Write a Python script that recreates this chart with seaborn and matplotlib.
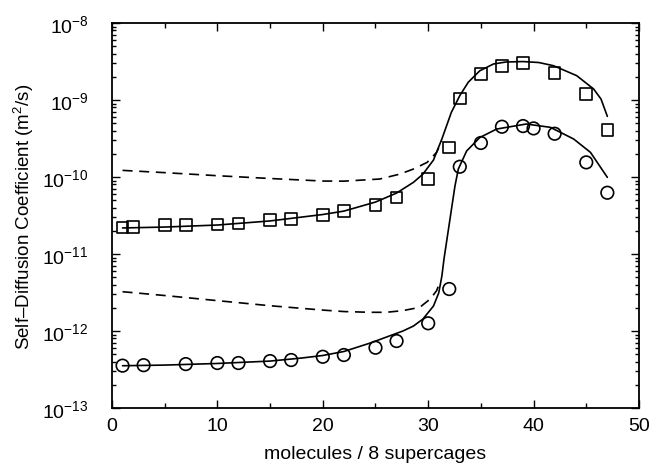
import numpy as np
import pandas as pd
import matplotlib
matplotlib.use("Agg")
import matplotlib.pyplot as plt
import seaborn as sns
from matplotlib.ticker import MultipleLocator, LogLocator, NullFormatter

# measured points (squares = upper series, circles = lower series)
sq_x = [1, 2, 5, 7, 10, 12, 15, 17, 20, 22, 25, 27, 30, 32, 33, 35, 37, 39, 42, 45, 47]
sq_y = [2.2e-11, 2.26e-11, 2.38e-11, 2.4e-11, 2.43e-11, 2.5e-11, 2.77e-11, 2.85e-11,
        3.2e-11, 3.6e-11, 4.3e-11, 5.4e-11, 9.4e-11, 2.43e-10, 1.05e-9, 2.16e-9,
        2.79e-9, 3.03e-9, 2.24e-9, 1.19e-9, 4.07e-10]

ci_x = [1, 3, 7, 10, 12, 15, 17, 20, 22, 25, 27, 30, 32, 33, 35, 37, 39, 40, 42, 45, 47]
ci_y = [3.55e-13, 3.6e-13, 3.72e-13, 3.84e-13, 3.84e-13, 4.07e-13, 4.2e-13, 4.63e-13,
        4.88e-13, 6.07e-13, 7.41e-13, 1.26e-12, 3.51e-12, 1.36e-10, 2.77e-10, 4.5e-10,
        4.59e-10, 4.28e-10, 3.65e-10, 1.55e-10, 6.25e-11]

# model curves (solid)
up_x = [1, 5, 10, 15, 20, 22, 25, 27, 28.6, 29.5, 30.5, 31.3, 32.2, 33.0, 33.8,
        34.9, 36.2, 37.4, 39.0, 40.5, 41.9, 44.1, 45.7, 46.4, 47.0]
up_y = [2.18e-11, 2.24e-11, 2.38e-11, 2.69e-11, 3.26e-11, 3.61e-11, 4.73e-11, 6.19e-11,
        8.53e-11, 1.09e-10, 1.66e-10, 3.12e-10, 6.93e-10, 1.14e-9, 1.70e-9,
        2.40e-9, 2.94e-9, 3.12e-9, 3.16e-9, 3.07e-9, 2.79e-9, 2.07e-9, 1.39e-9, 1.03e-9, 6.14e-10]

lo_x = [1, 5, 10, 15, 18, 20, 22, 24.5, 27.6, 28.6, 29.5, 30.5, 31.0, 31.3, 31.5,
        32.07, 32.54, 32.86, 33.65, 34.9, 36.5, 39.3, 41.6, 43.8, 45.4, 47.0]
lo_y = [3.54e-13, 3.61e-13, 3.79e-13, 4.07e-13, 4.46e-13, 4.81e-13, 5.42e-13, 6.98e-13,
        1.0e-12, 1.16e-12, 1.43e-12, 2.11e-12, 3.12e-12, 5.18e-12, 8.61e-12,
        2.85e-11, 7.64e-11, 1.27e-10, 2.18e-10, 3.26e-10, 4.20e-10, 4.88e-10, 4.42e-10,
        3.12e-10, 2.09e-10, 9.9e-11]

# dashed curves
dup_x = [1, 5, 10, 15, 20, 22, 25.4, 27.3, 28.6, 29.9, 30.8, 31.3]
dup_y = [1.22e-10, 1.14e-10, 1.04e-10, 9.57e-11, 8.87e-11, 8.84e-11, 9.42e-11, 1.09e-10,
         1.27e-10, 1.55e-10, 2.09e-10, 2.96e-10]

dlo_x = [1, 5, 10, 15, 20, 22, 24.5, 26, 27.6, 29.2, 30.2, 30.8, 31.1]
dlo_y = [3.24e-12, 2.89e-12, 2.48e-12, 2.13e-12, 1.87e-12, 1.79e-12, 1.75e-12, 1.75e-12,
         1.84e-12, 2.03e-12, 2.61e-12, 3.34e-12, 4.29e-12]

sns.set_style("ticks")
plt.rcParams['font.family'] = ['Liberation Sans', 'DejaVu Sans']
plt.rcParams['mathtext.fontset'] = 'custom'
plt.rcParams['mathtext.rm'] = 'Liberation Sans'
plt.rcParams['mathtext.it'] = 'Liberation Sans'
for k in ['text.color', 'axes.labelcolor', 'xtick.color', 'ytick.color', 'axes.edgecolor']:
    plt.rcParams[k] = 'black'

fig = plt.figure(figsize=(6.52, 4.64), dpi=100)
ax = fig.add_axes([0.1718, 0.1185, 0.8082, 0.8297])

lw = 1.2
sns.lineplot(x=up_x, y=up_y, color='black', lw=lw, estimator=None, sort=False, ax=ax)
sns.lineplot(x=lo_x, y=lo_y, color='black', lw=lw, estimator=None, sort=False, ax=ax)
sns.lineplot(x=dup_x, y=dup_y, color='black', lw=lw, linestyle=(0, (6, 4)),
             estimator=None, sort=False, ax=ax)
sns.lineplot(x=dlo_x, y=dlo_y, color='black', lw=lw, linestyle=(0, (6, 4)),
             estimator=None, sort=False, ax=ax)

sns.scatterplot(x=sq_x, y=sq_y, marker='s', s=70, facecolor='none', edgecolor='black',
                linewidth=1.2, ax=ax, zorder=3)
sns.scatterplot(x=ci_x, y=ci_y, marker='o', s=82, facecolor='none', edgecolor='black',
                linewidth=1.2, ax=ax, zorder=3)

ax.set_yscale('log')
ax.set_xlim(0, 50)
ax.set_ylim(1e-13, 1e-8)
ax.xaxis.set_major_locator(MultipleLocator(10))
ax.xaxis.set_minor_locator(MultipleLocator(5))
ax.yaxis.set_major_locator(LogLocator(base=10, numticks=10))
ax.yaxis.set_minor_locator(LogLocator(base=10, subs=np.arange(2, 10), numticks=20))
ax.yaxis.set_minor_formatter(NullFormatter())

ax.tick_params(which='both', direction='in', top=True, right=True, width=1.0, labelsize=14)
ax.tick_params(axis='x', which='major', length=6, pad=6.5)
ax.tick_params(axis='x', which='minor', length=3.5)
ax.tick_params(axis='y', which='major', length=6, pad=17)
ax.tick_params(axis='y', which='minor', length=3)
for sp in ax.spines.values():
    sp.set_linewidth(1.3)

ax.set_xlabel("molecules / 8 supercages", fontsize=14, labelpad=8)
ax.set_ylabel("Self\u2013Diffusion Coefficient (m$^2$/s)", fontsize=13.5, labelpad=4)

fig.savefig("out.png", dpi=100)
